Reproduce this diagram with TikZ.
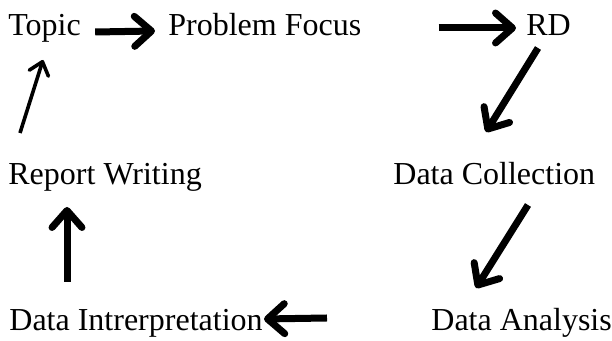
\documentclass[tikz,border=0pt]{standalone}
\usepackage{fontspec}
\setmainfont{Liberation Serif}
\usetikzlibrary{arrows.meta}
\begin{document}
\begin{tikzpicture}[x=0.5pt,y=-0.5pt,
    stage/.style={anchor=base west,inner sep=0pt,font=\fontsize{16}{19}\selectfont},
    bigarrow/.style={line width=3.5pt,-{Straight Barb[length=8.5pt,width=15pt,round]}},
    thinarrow/.style={line width=1.8pt,-{Straight Barb[length=6pt,width=10pt,round]}}]
    \useasboundingbox (0,0) rectangle (612,341);
    \node[stage] (topic) at (8,36) {Topic};
    \node[stage] (focus) at (168,36) {Problem Focus};
    \node[stage] (rd) at (526,36) {RD};
    \node[stage] (report) at (8,185) {Report Writing};
    \node[stage] (collect) at (393,185) {Data Collection};
    \node[stage] (interp) at (9,331) {Data Intrerpretation};
    \node[stage] (analysis) at (431,331) {Data Analysis};
    \draw[bigarrow] ([shift={(14,-4)}]topic.base east) -- ([shift={(-13,-5)}]focus.base west);
    \draw[bigarrow] ([shift={(77,-8)}]focus.base east) -- ([shift={(-10,-8)}]rd.base west);
    \draw[bigarrow] ([shift={(12,12)}]rd.base west) -- ([shift={(93,-53)}]collect.base west);
    \draw[bigarrow] ([shift={(135,20)}]collect.base west) -- ([shift={(45,-43)}]analysis.base west);
    \draw[bigarrow] ([shift={(-104,-13)}]analysis.base west) -- ([shift={(1,-12)}]interp.base east);
    \draw[bigarrow] ([shift={(58,-49)}]interp.base west) -- ([shift={(59,22)}]report.base west);
    \draw[thinarrow] ([shift={(12,-52)}]report.base west) -- ([shift={(35,24)}]topic.base west);
\end{tikzpicture}
\end{document}
